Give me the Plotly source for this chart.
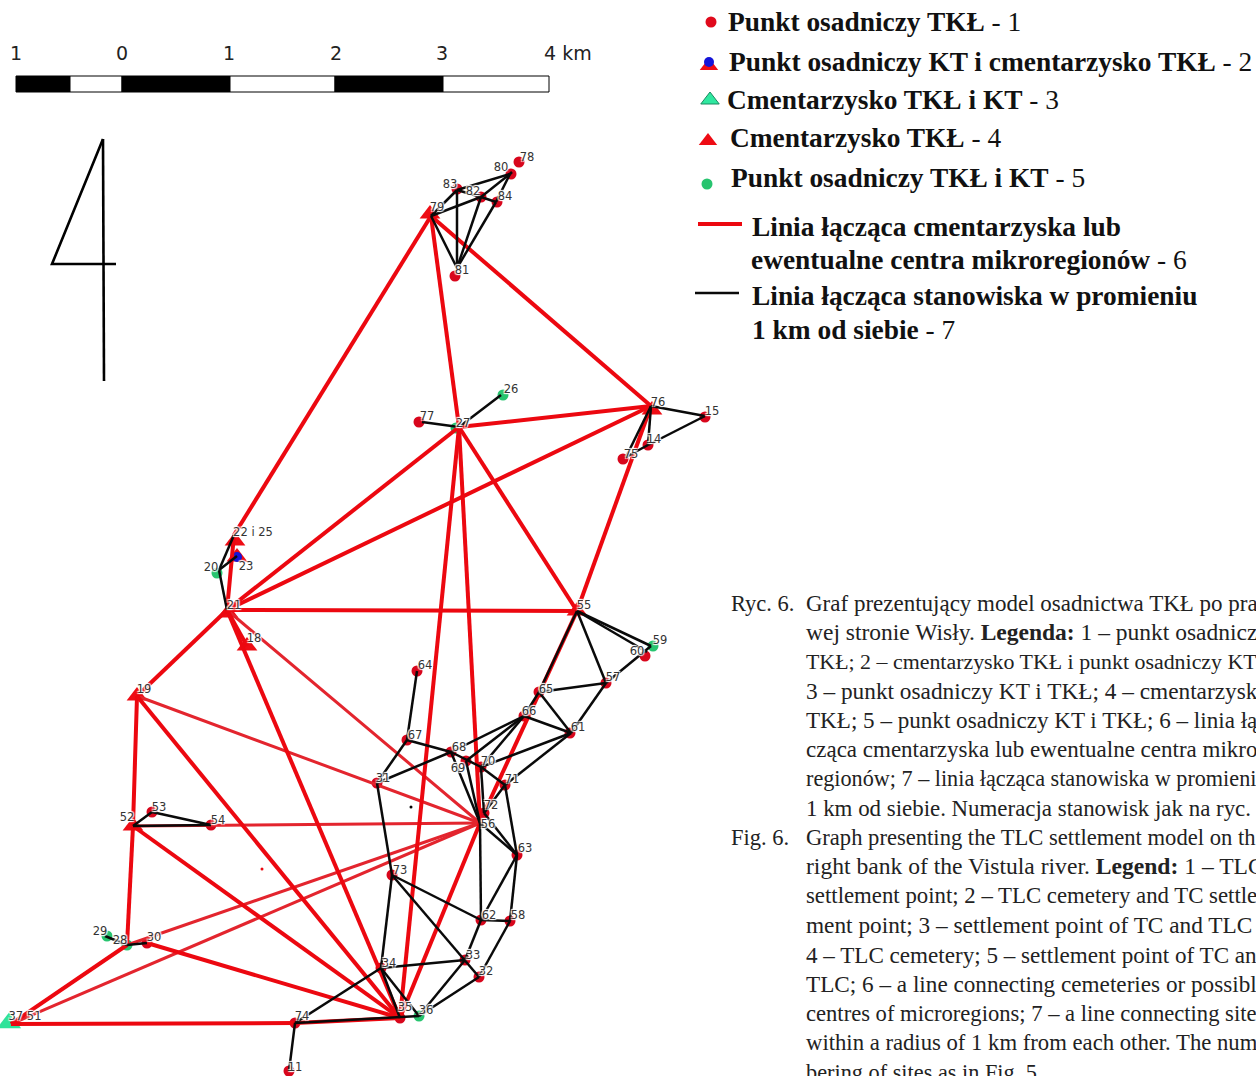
import plotly.graph_objects as go

# ---- data: sites (line vertices, marker centres, label anchors)
site_names = ["78","80","83","82","84","79","81","26","27","77","76","15","14","75","22 i 25","23","20","21","18","19",
              "55","59","60","57","65","66","61","64","67","68","69","70","71","72","56","63","31","73","62","58","33",
              "32","34","35","36","74","11","37 51","28","29","30","52","53","54"]
site_x = [512,510,457,481,496,431,457,501,459,422,651,705,648,626,234,237,219,227,247,137,
          577,651,647,606,539,524,571,417,407,451,466,481,505,484,480,517,377,392,481,510,465,
          479,381,400,419,295,289,11,127,105,147,133,152,211]
site_y = [172,174,190,197,202,216,268,395,427,422,406,416,445,457,535,556,570,610,646,696,
          611,646,652,683,692,716,733,671,740,752,761,767,785,813,823,855,783,875,920,921,960,
          977,968,1018,1016,1023,1071,1024,945,936,943,826,812,825]
mark_x = [519,511,457,481,497,430,455,503,456,419,652,705,648,623,235,237,217,228,247,137,
          577,653,645,606,539,524,570,417,407,451,466,481,505,484,480,517,377,392,481,510,465,
          479,381,400,419,295,289,9,127,107,147,133,152,211]
mark_y = [162,174,189,197,202,214,276,395,428,422,410,417,445,459,541,557,573,613,646,696,
          611,646,656,683,692,716,733,671,740,752,761,767,785,813,823,855,783,875,920,921,960,
          977,968,1018,1016,1023,1071,1023,945,936,943,826,812,825]
site_kind = ["c","c","c","c","c","t","c","g","g","c","t","c","c","c","t","b","g","t","t","t",
             "t","g","c","c","c","c","c","c","c","c","c","c","c","c","n","c","c","c","c","c","c",
             "c","c","c","g","c","c","T","g","g","c","t","c","c"]
label_x = [527,501,450,473,505,437,462,511,463,427,658,712,654,631,253,246,211,234,254,144,
           584,660,637,613,546,529,578,425,415,459,458,488,512,491,488,525,383,400,489,518,473,
           486,389,405,426,302,295,25,120,100,154,127,159,218]
label_y = [158,168,185,192,197,208,271,390,424,417,403,412,440,455,533,567,568,606,639,690,
           606,641,652,678,690,712,728,666,736,748,769,762,780,806,825,849,779,871,916,916,956,
           972,964,1008,1011,1017,1068,1017,941,932,938,818,808,821]

red_thick = [("79","22 i 25"),("79","27"),("79","76"),("27","76"),("27","21"),("27","55"),("27","35"),("27","56"),
             ("76","21"),("76","55"),("21","55"),("21","22 i 25"),("21","18"),("21","19"),("21","35"),
             ("19","52"),("19","35"),("52","28"),("52","35"),("28","37 51"),("30","35"),("56","35"),
             ("55","72"),("37 51","74"),("74","35")]
red_thin = [("21","56"),("19","56"),("52","56"),("28","56"),("37 51","56")]
black_edges = [("80","78"),("79","83"),("83","80"),("83","82"),("79","82"),("82","80"),("82","84"),("84","80"),
               ("79","81"),("83","81"),("82","81"),("84","81"),("27","26"),("27","77"),("76","15"),("76","75"),
               ("76","14"),("14","15"),("14","75"),("22 i 25","20"),("20","23"),("20","21"),
               ("55","59"),("55","60"),("55","57"),("55","65"),("57","59"),("57","65"),("57","61"),("65","66"),
               ("65","61"),("66","61"),("66","68"),("66","69"),("66","70"),("70","61"),("61","71"),("64","67"),
               ("67","31"),("67","68"),("68","31"),("68","70"),("68","56"),("69","56"),("70","71"),("70","72"),
               ("71","72"),("71","63"),("72","63"),("56","63"),("56","62"),("63","62"),("63","58"),("62","58"),
               ("62","33"),("58","32"),("73","62"),("73","32"),("73","34"),("31","73"),("34","33"),("33","36"),
               ("32","36"),("34","35"),("34","36"),("34","74"),("74","36"),("74","11"),
               ("52","53"),("53","54"),("52","54"),("29","28"),("28","30")]

scale_labels = ["1","0","1","2","3","4 km"]
scale_label_x = [16,122,229,336,442,568]
scale_edges = [16,70,122,230,335,443,549]
north_x = [116,52,103]
north_y = [264,264,139]
north_stem_x = [103,104]
north_stem_y = [139,381]

legend_rows = [("Punkt osadniczy TKŁ"," - 1",726,22),("Punkt osadniczy KT i cmentarzysko TKŁ"," - 2",727,62),
               ("Cmentarzysko TKŁ i KT"," - 3",725,100),("Cmentarzysko TKŁ"," - 4",728,138),
               ("Punkt osadniczy TKŁ i KT"," - 5",729,178),("Linia łącząca cmentarzyska lub","",750,227),
               ("ewentualne centra mikroregionów"," - 6",749,260),("Linia łącząca stanowiska w promieniu","",750,296),
               ("1 km od siebie"," - 7",750,330)]

caption_tags = ["Ryc. 6.","Fig. 6."]
caption_tag_y = [603,837]
caption_lines = ["Graf prezentujący model osadnictwa TKŁ po pra",
           "wej stronie Wisły. <b>Legenda:</b> 1 – punkt osadnicz","TKŁ; 2 – cmentarzysko TKŁ i punkt osadniczy KT",
           "3 – punkt osadniczy KT i TKŁ; 4 – cmentarzysk","TKŁ; 5 – punkt osadniczy KT i TKŁ; 6 – linia łą",
           "cząca cmentarzyska lub ewentualne centra mikro","regionów; 7 – linia łącząca stanowiska w promieni",
           "1 km od siebie. Numeracja stanowisk jak na ryc. 5","Graph presenting the TLC settlement model on th",
           "right bank of the Vistula river. <b>Legend:</b> 1 – TLC","settlement point; 2 – TLC cemetery and TC settle",
           "ment point; 3 – settlement point of TC and TLC","4 – TLC cemetery; 5 – settlement point of TC an",
           "TLC; 6 – a line connecting cemeteries or possibl","centres of microregions; 7 – a line connecting site",
           "within a radius of 1 km from each other. The num","bering of sites as in Fig. 5."]
caption_sizes = [23.0,23.5,21.9,23.3,23.1,23.0,22.2,22.9,22.6,23.6,22.8,23.3,23.1,23.2,22.6,22.7,22.3]

pos = dict(zip(site_names, zip(site_x, site_y)))
RED = "#ec0810"; RED2 = "#e3252e"; BLACK = "#0a0a0a"
fig = go.Figure()

def edges(pairs, color, width):
    xs, ys = [], []
    for a, b in pairs:
        xs += [pos[a][0], pos[b][0], None]
        ys += [pos[a][1], pos[b][1], None]
    fig.add_trace(go.Scatter(x=xs, y=ys, mode="lines", line=dict(color=color, width=width), hoverinfo="skip"))

def marks(kinds, symbol, color, size, lw=0, lc="#333"):
    idx = [i for i, k in enumerate(site_kind) if k in kinds]
    fig.add_trace(go.Scatter(x=[mark_x[i] for i in idx], y=[mark_y[i] for i in idx], mode="markers",
                             marker=dict(symbol=symbol, color=color, size=size, line=dict(width=lw, color=lc)),
                             hoverinfo="skip"))

marks("tb", "triangle-up", "#ee0c14", 18)
marks("T", "triangle-up", "#2fe39a", 21)
marks("c", "circle", "#d8061c", 11)
marks("g", "circle", "#27c46f", 11)
marks("b", "circle", "#1414d8", 10)
edges(red_thin, RED2, 3)
edges(red_thick, RED, 4)
edges(black_edges, BLACK, 2.5)

# stray specks seen on the map
fig.add_trace(go.Scatter(x=[411], y=[807], mode="markers", marker=dict(color="black", size=3), hoverinfo="skip"))
fig.add_trace(go.Scatter(x=[262], y=[869], mode="markers", marker=dict(color=RED, size=3), hoverinfo="skip"))

halo = "1px 1px 1px #fff, -1px -1px 1px #fff, 1px -1px 1px #fff, -1px 1px 1px #fff"
fig.add_trace(go.Scatter(x=label_x, y=label_y, text=site_names, mode="text", textposition="middle center",
                         textfont=dict(family="DejaVu Sans", size=11.5, color="#333333", shadow=halo), hoverinfo="skip"))

# north arrow
fig.add_trace(go.Scatter(x=north_x, y=north_y, mode="lines",
                         line=dict(color="black", width=2.6), hoverinfo="skip"))
fig.add_trace(go.Scatter(x=north_stem_x, y=north_stem_y, mode="lines",
                         line=dict(color="black", width=2.6), hoverinfo="skip"))

# legend symbols
fig.add_trace(go.Scatter(x=[708, 709], y=[141, 66], mode="markers",
                         marker=dict(symbol="triangle-up", color="#ee0c14", size=16), hoverinfo="skip"))
fig.add_trace(go.Scatter(x=[710], y=[100], mode="markers",
                         marker=dict(symbol="triangle-up", color="#2fe8a0", size=16, line=dict(width=1, color="#1a8a60")), hoverinfo="skip"))
fig.add_trace(go.Scatter(x=[711], y=[22], mode="markers", marker=dict(color="#e00a1c", size=11), hoverinfo="skip"))
fig.add_trace(go.Scatter(x=[709], y=[62], mode="markers", marker=dict(color="#1414d8", size=10), hoverinfo="skip"))
fig.add_trace(go.Scatter(x=[707], y=[184], mode="markers", marker=dict(color="#27c46f", size=11), hoverinfo="skip"))
fig.add_trace(go.Scatter(x=[698, 742], y=[224, 224], mode="lines", line=dict(color=RED, width=4), hoverinfo="skip"))
fig.add_trace(go.Scatter(x=[695, 739], y=[293, 293], mode="lines", line=dict(color=BLACK, width=2.5), hoverinfo="skip"))

# scale bar
shapes = []
for i in range(len(scale_edges) - 1):
    shapes.append(dict(type="rect", x0=scale_edges[i], x1=scale_edges[i + 1], y0=76, y1=92,
                       fillcolor="black" if i % 2 == 0 else "white", line=dict(color="black", width=1)))

ann = []
for t, x in zip(scale_labels, scale_label_x):
    ann.append(dict(x=x, y=53, text=t, showarrow=False, xanchor="center", yanchor="middle",
                    font=dict(family="DejaVu Sans", size=19, color="#222")))
for b, n, x, y in legend_rows:
    ann.append(dict(x=x, y=y, text=f"<b>{b}</b>{n}", showarrow=False, xanchor="left", yanchor="middle",
                    font=dict(family="Liberation Serif", size=27.4, color="#111")))

serif = "Liberation Serif"
for t, y in zip(caption_tags, caption_tag_y):
    ann.append(dict(x=728.5, y=y, text=t, showarrow=False, xanchor="left", yanchor="middle",
                    font=dict(family=serif, size=22.5, color="#222")))
line_y = [603 + 29.3 * i for i in range(8)] + [837 + 29.4 * i for i in range(9)]
for t, y, s in zip(caption_lines, line_y, caption_sizes):
    ann.append(dict(x=803.5, y=y, text=t, showarrow=False, xanchor="left", yanchor="middle",
                    font=dict(family=serif, size=s, color="#222")))

fig.update_layout(width=1256, height=1076, margin=dict(l=0, r=0, t=0, b=0), showlegend=False,
                  paper_bgcolor="white", plot_bgcolor="white", shapes=shapes, annotations=ann,
                  xaxis=dict(range=[0, 1256], visible=False, fixedrange=True),
                  yaxis=dict(range=[1076, 0], visible=False, fixedrange=True))
fig.write_html("out.html", config=dict(displayModeBar=False),
               post_script="document.body.style.margin='0';document.body.style.overflow='hidden';")
